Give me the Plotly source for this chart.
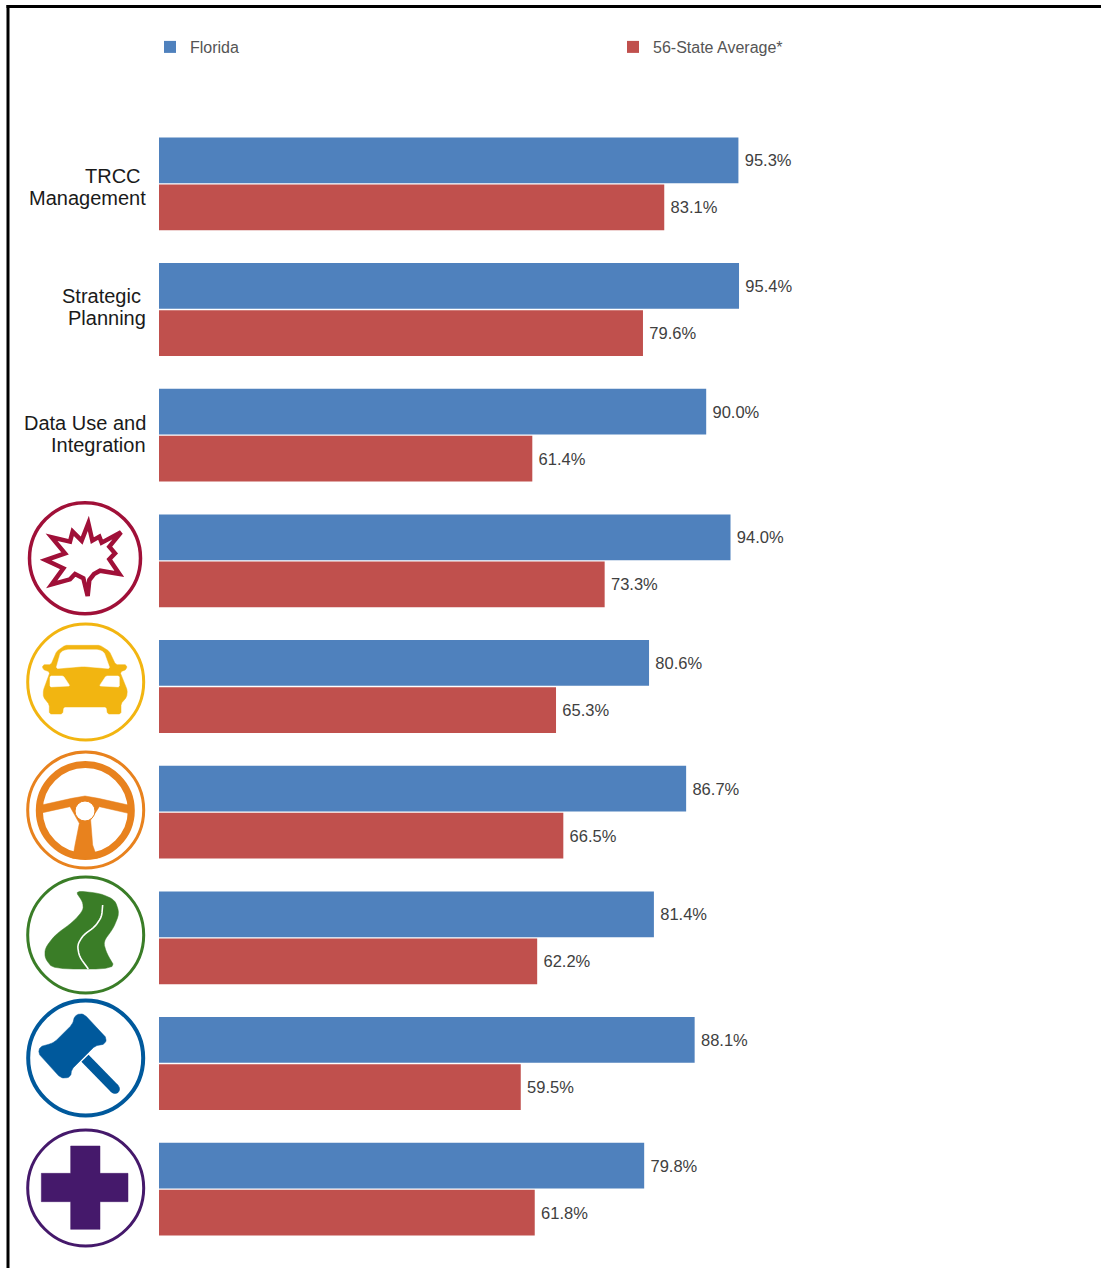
import math
import plotly.graph_objects as go

categories = ["TRCC Management", "Strategic Planning", "Data Use and Integration", "Crash", "Vehicle",
              "Driver", "Roadway", "Citation/Adjudication", "EMS/Injury Surveillance"]
florida = [95.3, 95.4, 90.0, 94.0, 80.6, 86.7, 81.4, 88.1, 79.8]
average = [83.1, 79.6, 61.4, 73.3, 65.3, 66.5, 62.2, 59.5, 61.8]
series_names = ["Florida", "56-State Average*"]
row_labels = {"TRCC Management": ["TRCC\u00a0", "Management"],
              "Strategic Planning": ["Strategic\u00a0", "Planning"],
              "Data Use and Integration": ["Data Use and", "Integration"]}

W, H = 1101, 1268
BLUE, RED = "#4f81bd", "#c0504d"
FONT = "Liberation Sans, Arial, sans-serif"


def X(x):
    return x / W


def Y(y):
    return 1 - y / H


def paper_path(points, close=True):
    d = "M" + " L".join(f"{X(x):.5f},{Y(y):.5f}" for x, y in points)
    return d + (" Z" if close else "")


def zoomed(points, ox, oy):
    return [(ox + x / 3, oy + y / 3) for x, y in points]


def rounded(points, rounds=1, closed=True):
    pts = list(points)
    for _ in range(rounds):
        out = []
        n = len(pts)
        rng = range(n) if closed else range(n - 1)
        if not closed:
            out.append(pts[0])
        for i in rng:
            a, b = pts[i], pts[(i + 1) % n]
            out.append((a[0] * 0.8 + b[0] * 0.2, a[1] * 0.8 + b[1] * 0.2))
            out.append((a[0] * 0.2 + b[0] * 0.8, a[1] * 0.2 + b[1] * 0.8))
        if not closed:
            out.append(pts[-1])
        pts = out
    return pts


def chamfered(points, cut=1.5):
    out = []
    n = len(points)
    for i in range(n):
        p, c, q = points[i - 1], points[i], points[(i + 1) % n]
        for other in (p, q):
            d = math.hypot(other[0] - c[0], other[1] - c[1])
            t = min(cut / d, 0.45) if d else 0
            out.append((c[0] + (other[0] - c[0]) * t, c[1] + (other[1] - c[1]) * t))
    return out


def poly(points, color):
    return dict(type="path", xref="paper", yref="paper", path=paper_path(points),
                fillcolor=color, line=dict(color=color, width=0.5))


def circle(cx, cy, r, line_color, width, fill="rgba(0,0,0,0)"):
    return dict(type="circle", xref="paper", yref="paper", x0=X(cx - r), x1=X(cx + r), y0=Y(cy + r), y1=Y(cy - r),
                line=dict(color=line_color, width=width), fillcolor=fill)


def stroke(points, color, width):
    return dict(type="path", xref="paper", yref="paper", path=paper_path(points, close=False),
                line=dict(color=color, width=width), fillcolor="rgba(0,0,0,0)")


shapes = []
# frame
shapes.append(dict(type="rect", xref="paper", yref="paper", x0=X(6.5), x1=X(9.5), y0=0, y1=Y(5),
                   fillcolor="#000000", line=dict(width=0)))
shapes.append(dict(type="rect", xref="paper", yref="paper", x0=X(6.5), x1=1, y0=Y(8), y1=Y(5),
                   fillcolor="#000000", line=dict(width=0)))

# crash icon
CRIMSON = "#a01038"
shapes.append(circle(85, 558.3, 55.5, CRIMSON, 3.5))
star = [(205, 70), (217, 122), (238, 110), (245, 128), (303, 97), (268, 140), (285, 160), (268, 178), (298, 222),
        (240, 212), (222, 222), (208, 240), (203, 288), (190, 235), (165, 222), (150, 238), (95, 253), (130, 205),
        (77, 180), (135, 160), (95, 112), (150, 125), (158, 95), (185, 122)]
shapes.append(dict(type="path", xref="paper", yref="paper", path=paper_path(zoomed(star, 20, 500)),
                   fillcolor="#ffffff", line=dict(color=CRIMSON, width=4.5)))

# vehicle icon
YELLOW = "#f2b511"
shapes.append(circle(85.7, 682, 58, YELLOW, 3))
car = [(135, 70), (240, 70), (268, 88), (287, 128), (320, 128), (320, 142), (300, 150), (322, 205), (320, 225),
       (303, 245), (303, 276), (262, 276), (260, 255), (130, 255), (128, 276), (88, 276), (88, 248), (70, 225),
       (70, 205), (90, 150), (68, 142), (68, 128), (93, 128), (110, 88)]
shapes.append(poly(chamfered(zoomed(car, 20, 622)), YELLOW))
shapes.append(poly(chamfered(zoomed([(108, 140), (122, 90), (140, 83), (235, 83), (252, 90), (270, 140), (190, 133)],
                                    20, 622)), "#ffffff"))
shapes.append(poly(chamfered(zoomed([(90, 162), (130, 162), (150, 192), (90, 195)], 20, 622), 1), "#ffffff"))
shapes.append(poly(chamfered(zoomed([(298, 162), (258, 162), (238, 192), (298, 195)], 20, 622), 1), "#ffffff"))

# driver icon
ORANGE = "#e8821e"
shapes.append(circle(85.7, 810, 58, ORANGE, 3))
shapes.append(circle(85.3, 810.5, 46, ORANGE, 7))
wheel = [(65, 165), (155, 145), (195, 138), (235, 145), (325, 165), (325, 190), (238, 170), (212, 210), (218, 285),
         (232, 325), (158, 325), (165, 285), (178, 220), (150, 170), (68, 188)]
shapes.append(poly(zoomed(wheel, 20, 750), ORANGE))
shapes.append(circle(85, 811, 10, ORANGE, 1, "#ffffff"))

# roadway icon
GREEN = "#3a7d27"
shapes.append(circle(85.7, 935, 58, GREEN, 3))
road = [(225, 62), (300, 70), (345, 90), (358, 130), (340, 175), (310, 215), (320, 250), (348, 297), (160, 297),
        (135, 265), (135, 235), (165, 195), (220, 155), (250, 120), (248, 95)]
shapes.append(poly(rounded(zoomed(road, 0, 870), 2), GREEN))
shapes.append(stroke(rounded(zoomed([(308, 105), (305, 140), (285, 170), (250, 195), (232, 225), (238, 260), (265, 297)],
                                    0, 870), 2, closed=False), "#ffffff", 1.6))

# citation icon
NAVY = "#00599c"
shapes.append(circle(85.7, 1058, 57.5, NAVY, 4))
gavel = [(222, 440), (240, 430), (255, 435), (320, 505), (315, 522), (285, 528), (275, 538), (215, 598), (212, 620),
         (195, 625), (180, 622), (115, 550), (120, 530), (150, 522), (165, 515), (215, 465), (222, 450)]
shapes.append(poly(chamfered(zoomed(gavel, 0, 870), 2), NAVY))
shapes.append(stroke(zoomed([(255, 565), (345, 657)], 0, 870), NAVY, 10))
shapes.append(circle(115, 1089, 4.6, NAVY, 0.5, NAVY))

# EMS icon
PURPLE = "#45196b"
shapes.append(circle(85.7, 1188, 58, PURPLE, 3))
shapes.append(poly(zoomed([(212, 828), (300, 828), (300, 910), (384, 910), (384, 995), (300, 995), (300, 1078),
                           (212, 1078), (212, 995), (124, 995), (124, 910), (212, 910)], 0, 870), PURPLE))

fig = go.Figure()
for name, values, color in zip(series_names, [florida, average], [BLUE, RED]):
    fig.add_trace(go.Bar(y=categories, x=values, name=name, orientation="h", marker=dict(color=color, line=dict(width=0)),
                         text=values, texttemplate="\u2009%{x:.1f}%", textposition="outside", cliponaxis=False,
                         textfont=dict(family=FONT, size=16.5, color="#404040")))

annotations = []
shift = {"TRCC Management": -3, "Strategic Planning": 2, "Data Use and Integration": 1}
for cat, lines in row_labels.items():
    for i, line in enumerate(lines):
        annotations.append(dict(text=line, xref="paper", yref="y", x=X(148), y=cat, xanchor="right", yanchor="middle",
                                showarrow=False, align="right", yshift=(11 if i == 0 else -11) + shift[cat],
                                font=dict(family=FONT, size=20, color="#1a1a1a")))

fig.update_layout(
    width=W, height=H, margin=dict(l=0, r=0, t=0, b=0, autoexpand=False),
    paper_bgcolor="#ffffff", plot_bgcolor="#ffffff",
    barmode="group", bargap=0.25, bargroupgap=0.03,
    xaxis=dict(domain=[X(159), 1], range=[0, (W - 159) / 6.08], visible=False),
    yaxis=dict(domain=[Y(1252), Y(121)], autorange="reversed", visible=False, type="category"),
    legend=dict(orientation="h", x=X(150), y=Y(47), xanchor="left", yanchor="middle", entrywidth=418,
                entrywidthmode="pixels", bgcolor="rgba(0,0,0,0)", itemclick=False, itemdoubleclick=False,
                traceorder="normal", font=dict(family=FONT, size=16, color="#555555")),
    showlegend=True, shapes=shapes, annotations=annotations,
)

fig.write_html("out.html", post_script="document.body.style.margin='0';document.body.style.overflow='hidden';",
               config=dict(displayModeBar=False))
